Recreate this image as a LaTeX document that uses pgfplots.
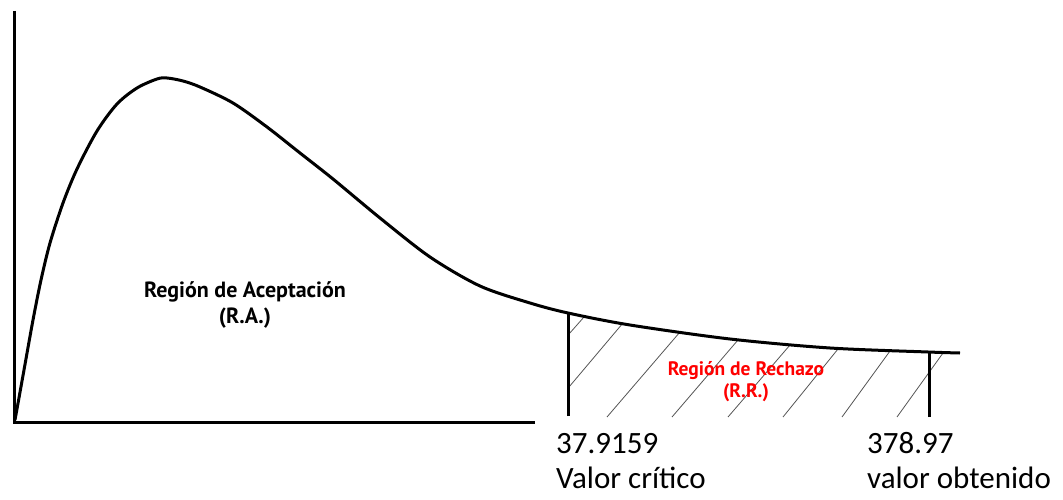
\documentclass[border=0pt]{standalone}
\usepackage{fontspec}
\setmainfont{Carlito}
\newfontfamily\labfont{PT Sans}
\usepackage{pgfplots}
\pgfplotsset{compat=1.18}
\definecolor{rrred}{HTML}{FF0000}
\definecolor{hatch}{HTML}{555555}
\begin{document}
\begin{tikzpicture}
\begin{axis}[
  width=1063bp, height=499bp, scale only axis,
  xmin=0, xmax=1063, ymin=0, ymax=499,
  hide axis, clip=false,
]
% hatch lines of the rejection region
\addplot[hatch, line width=0.8bp] coordinates {(569,165) (584,182)};
\addplot[hatch, line width=0.8bp] coordinates {(569,112) (623,176)};
\addplot[hatch, line width=0.8bp] coordinates {(607,82) (680,167)};
\addplot[hatch, line width=0.8bp] coordinates {(672,82) (738,159)};
\addplot[hatch, line width=0.8bp] coordinates {(728,82) (790,154)};
\addplot[hatch, line width=0.8bp] coordinates {(783,82) (838,150)};
\addplot[hatch, line width=0.8bp] coordinates {(842,82) (890,148)};
\addplot[hatch, line width=0.8bp] coordinates {(897,82) (943,146)};
% axes
\addplot[black, line width=3bp] coordinates {(14,488) (14,77) (535,77)};
% curve
\addplot[black, line width=3bp, smooth] coordinates {
 (15,79) (24,129) (33,179) (41,219) (50,256) (63,296) (77,330) (97,368)
 (117,395) (137,411) (157,420) (167,421) (183,418) (200,412) (233,396)
 (267,372) (300,346) (333,320) (380,281) (430,242) (480,213) (530,196)
 (568,186) (630,174) (730,160) (830,151) (928,147) (960,146)};
% critical lines
\addplot[black, line width=3bp] coordinates {(568,83) (568,186)};
\addplot[black, line width=3bp] coordinates {(929,82) (929,147)};
% labels
\node[anchor=base, font=\labfont\bfseries\fontsize{22bp}{26bp}\selectfont] at (axis cs:245,201) {Región de Aceptación};
\node[anchor=base, font=\labfont\bfseries\fontsize{22bp}{26bp}\selectfont] at (axis cs:245,176) {(R.A.)};
\node[anchor=base, text=rrred, font=\labfont\bfseries\fontsize{19.5bp}{23bp}\selectfont] at (axis cs:746,124) {Región de Rechazo};
\node[anchor=base, text=rrred, font=\labfont\bfseries\fontsize{19.5bp}{23bp}\selectfont] at (axis cs:746,102) {(R.R.)};
\node[anchor=base west, inner sep=0pt, font=\fontsize{31bp}{37bp}\selectfont] at (axis cs:556,46) {37.9159};
\node[anchor=base west, inner sep=0pt, font=\fontsize{31bp}{37bp}\selectfont] at (axis cs:556,11) {Valor crítico};
\node[anchor=base west, inner sep=0pt, font=\fontsize{31bp}{37bp}\selectfont] at (axis cs:867,46) {378.97};
\node[anchor=base west, inner sep=0pt, font=\fontsize{31bp}{37bp}\selectfont] at (axis cs:867,11) {valor obtenido};
\coordinate (ll) at (axis cs:0,0);
\coordinate (ur) at (axis cs:1063,499);
\end{axis}
\pgfresetboundingbox
\path (ll) rectangle (ur);
\end{tikzpicture}
\end{document}
